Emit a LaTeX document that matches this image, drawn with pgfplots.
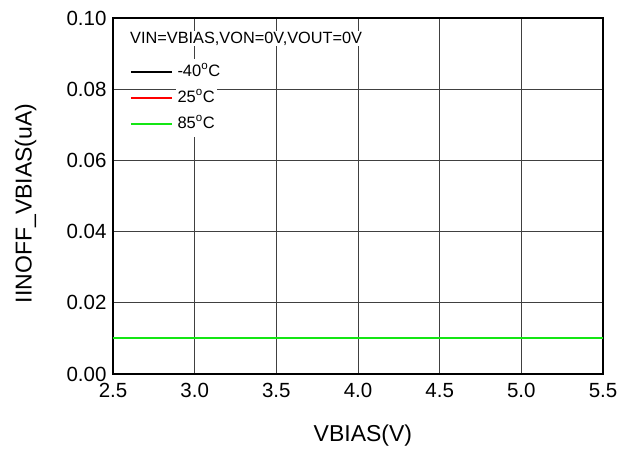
\documentclass[border=0pt]{standalone}
\usepackage{fontspec}
\setmainfont{Liberation Sans}
\usepackage{pgfplots}
\pgfplotsset{compat=1.18}
\definecolor{gridgray}{RGB}{64,64,64}
\definecolor{cgreen}{RGB}{20,230,20}
\begin{document}
\begin{tikzpicture}
\path[use as bounding box] (-113pt,-75pt) rectangle (518pt,374pt);
\begin{axis}[
  scale only axis, width=490pt, height=356pt,
  xmin=2.5, xmax=5.5, ymin=0, ymax=0.10,
  xtick={2.5,3.0,3.5,4.0,4.5,5.0,5.5},
  ytick={0,0.02,0.04,0.06,0.08,0.10},
  scaled y ticks=false,
  /pgf/number format/assume math mode=true,
  x tick label style={/pgf/number format/fixed, /pgf/number format/fixed zerofill, /pgf/number format/precision=1, yshift=-6pt},
  y tick label style={/pgf/number format/fixed, /pgf/number format/fixed zerofill, /pgf/number format/precision=2, xshift=-3pt},
  tick label style={font=\fontsize{20.5}{24}\selectfont},
  major tick length=0pt,
  grid=major,
  major grid style={gridgray, line width=1pt},
  axis line style={black, line width=1.8pt},
  xlabel={VBIAS(V)},
  ylabel={IINOFF\_VBIAS(uA)},
  label style={font=\fontsize{23}{28}\selectfont},
  xlabel style={at={(axis description cs:0.51,0)}, anchor=base, yshift=-67pt},
  ylabel style={at={(axis description cs:-0.149,0.479)}, anchor=south},
  legend style={at={(axis description cs:0.0347,0.885)}, anchor=north west,
    draw=none, fill=none, inner sep=0pt, row sep=0pt,
    font=\fontsize{16.5}{19}\selectfont,
    nodes={fill=white, inner xsep=2pt, inner ysep=5pt, text height=12pt, text depth=4pt},
    /tikz/every odd column/.append style={column sep=3pt}},
  legend cell align=left,
  legend image code/.code={\draw[#1, line width=1.3pt] (0pt,0pt) -- (41pt,0pt);},
]
\addplot[black, line width=1.8pt] coordinates {
(2.5,0.01) (3.0,0.01) (3.5,0.01) (4.0,0.01) (4.5,0.01) (5.0,0.01) (5.5,0.01)
};
\addlegendentry{-40\textsuperscript{o}C}
\addplot[red, line width=1.8pt] coordinates {
(2.5,0.01) (3.0,0.01) (3.5,0.01) (4.0,0.01) (4.5,0.01) (5.0,0.01) (5.5,0.01)
};
\addlegendentry{25\textsuperscript{o}C}
\addplot[cgreen, line width=1.8pt] coordinates {
(2.5,0.01) (3.0,0.01) (3.5,0.01) (4.0,0.01) (4.5,0.01) (5.0,0.01) (5.5,0.01)
};
\addlegendentry{85\textsuperscript{o}C}
\node[anchor=west, fill=white, inner sep=1pt, font=\fontsize{16.3}{19}\selectfont]
  at (axis description cs:0.0327,0.942) {VIN=VBIAS,VON=0V,VOUT=0V};
\end{axis}
\end{tikzpicture}
\end{document}
